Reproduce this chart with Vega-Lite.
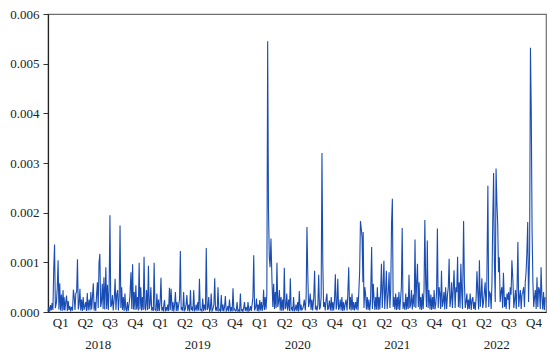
{
  "$schema": "https://vega.github.io/schema/vega-lite/v6.json",
  "width": 498,
  "height": 298,
  "autosize": {"type": "none"},
  "padding": {"left": 48, "top": 14, "right": 4, "bottom": 46},
  "background": "white",
  "config": {
    "view": {"stroke": "#6f6f6f", "strokeWidth": 1.2},
    "font": "Liberation Serif, DejaVu Serif, serif"
  },
  "data": {"values": [
{"d":"2018-01-01","v":0.00002},{"d":"2018-01-04","v":0.0001},{"d":"2018-01-07","v":0.00001},{"d":"2018-01-10","v":0.00014},{"d":"2018-01-13","v":0.00003},{"d":"2018-01-16","v":0.00018},{"d":"2018-01-19","v":0.00004},{"d":"2018-01-22","v":0.00087},{"d":"2018-01-25","v":0.00136},{"d":"2018-01-28","v":0.00008},
{"d":"2018-02-01","v":0.0002},{"d":"2018-02-04","v":0.0005},{"d":"2018-02-07","v":0.00104},{"d":"2018-02-10","v":0.00005},{"d":"2018-02-13","v":0.00058},{"d":"2018-02-16","v":0.00003},{"d":"2018-02-19","v":0.00035},{"d":"2018-02-22","v":0.00002},{"d":"2018-02-25","v":0.00044},{"d":"2018-02-28","v":0.00004},
{"d":"2018-03-01","v":0.0003},{"d":"2018-03-04","v":0.00003},{"d":"2018-03-07","v":0.0002},{"d":"2018-03-10","v":0.00033},{"d":"2018-03-13","v":0.00002},{"d":"2018-03-16","v":0.00022},{"d":"2018-03-19","v":0.00004},{"d":"2018-03-22","v":0.00012},{"d":"2018-03-25","v":0.00001},{"d":"2018-03-28","v":0.0001},
{"d":"2018-04-01","v":0.00003},{"d":"2018-04-04","v":0.00045},{"d":"2018-04-07","v":0.0003},{"d":"2018-04-10","v":0.00004},{"d":"2018-04-13","v":0.00038},{"d":"2018-04-16","v":0.0004},{"d":"2018-04-19","v":0.00106},{"d":"2018-04-22","v":0.00005},{"d":"2018-04-25","v":0.00015},{"d":"2018-04-28","v":0.00047},
{"d":"2018-05-01","v":0.00003},{"d":"2018-05-04","v":0.00025},{"d":"2018-05-07","v":0.00002},{"d":"2018-05-10","v":0.0003},{"d":"2018-05-13","v":0.00004},{"d":"2018-05-16","v":0.00012},{"d":"2018-05-19","v":0.0002},{"d":"2018-05-22","v":0.00002},{"d":"2018-05-25","v":0.00038},{"d":"2018-05-28","v":0.00003},
{"d":"2018-06-01","v":0.00025},{"d":"2018-06-04","v":0.00003},{"d":"2018-06-07","v":0.0004},{"d":"2018-06-10","v":0.00005},{"d":"2018-06-13","v":0.0003},{"d":"2018-06-16","v":0.00058},{"d":"2018-06-19","v":0.00003},{"d":"2018-06-22","v":0.0002},{"d":"2018-06-25","v":0.00002},{"d":"2018-06-28","v":0.00035},
{"d":"2018-07-01","v":0.0006},{"d":"2018-07-04","v":0.00008},{"d":"2018-07-07","v":0.00099},{"d":"2018-07-10","v":0.00117},{"d":"2018-07-13","v":0.0001},{"d":"2018-07-16","v":0.0002},{"d":"2018-07-19","v":0.00057},{"d":"2018-07-22","v":0.00006},{"d":"2018-07-25","v":0.0007},{"d":"2018-07-28","v":0.00005},
{"d":"2018-08-01","v":0.0009},{"d":"2018-08-04","v":0.00006},{"d":"2018-08-07","v":0.00055},{"d":"2018-08-10","v":0.00004},{"d":"2018-08-13","v":0.00045},{"d":"2018-08-16","v":0.00195},{"d":"2018-08-19","v":0.0001},{"d":"2018-08-22","v":0.00015},{"d":"2018-08-25","v":0.00034},{"d":"2018-08-28","v":0.00003},
{"d":"2018-09-01","v":0.0003},{"d":"2018-09-04","v":0.00067},{"d":"2018-09-07","v":0.00004},{"d":"2018-09-10","v":0.00035},{"d":"2018-09-13","v":0.00044},{"d":"2018-09-16","v":0.00003},{"d":"2018-09-19","v":0.0003},{"d":"2018-09-22","v":0.00174},{"d":"2018-09-25","v":0.00008},{"d":"2018-09-28","v":0.0005},
{"d":"2018-10-01","v":0.00004},{"d":"2018-10-04","v":0.0003},{"d":"2018-10-07","v":0.00002},{"d":"2018-10-10","v":0.00037},{"d":"2018-10-13","v":0.00006},{"d":"2018-10-16","v":0.00003},{"d":"2018-10-19","v":0.0002},{"d":"2018-10-22","v":0.00002},{"d":"2018-10-25","v":0.00015},{"d":"2018-10-28","v":0.0003},
{"d":"2018-11-01","v":0.0008},{"d":"2018-11-04","v":0.00006},{"d":"2018-11-07","v":0.00096},{"d":"2018-11-10","v":0.00005},{"d":"2018-11-13","v":0.0004},{"d":"2018-11-16","v":0.00004},{"d":"2018-11-19","v":0.00054},{"d":"2018-11-22","v":0.00005},{"d":"2018-11-25","v":0.0003},{"d":"2018-11-28","v":0.00003},
{"d":"2018-12-01","v":0.00099},{"d":"2018-12-04","v":0.00005},{"d":"2018-12-07","v":0.0005},{"d":"2018-12-10","v":0.00003},{"d":"2018-12-13","v":0.0003},{"d":"2018-12-16","v":0.00004},{"d":"2018-12-19","v":0.00111},{"d":"2018-12-22","v":0.00008},{"d":"2018-12-25","v":0.00003},{"d":"2018-12-28","v":0.00044},
{"d":"2019-01-01","v":0.00004},{"d":"2019-01-04","v":0.00093},{"d":"2019-01-07","v":0.00006},{"d":"2019-01-10","v":0.00015},{"d":"2019-01-13","v":0.0005},{"d":"2019-01-16","v":0.00003},{"d":"2019-01-19","v":0.0001},{"d":"2019-01-22","v":0.00002},{"d":"2019-01-25","v":0.00099},{"d":"2019-01-28","v":0.00005},
{"d":"2019-02-01","v":0.00003},{"d":"2019-02-04","v":0.00037},{"d":"2019-02-07","v":0.00002},{"d":"2019-02-10","v":0.00025},{"d":"2019-02-13","v":0.00002},{"d":"2019-02-16","v":0.0002},{"d":"2019-02-19","v":0.00069},{"d":"2019-02-22","v":0.00003},{"d":"2019-02-25","v":0.0001},{"d":"2019-02-28","v":0.00001},
{"d":"2019-03-01","v":0.00012},{"d":"2019-03-04","v":0.00024},{"d":"2019-03-07","v":0.00001},{"d":"2019-03-10","v":0.0001},{"d":"2019-03-13","v":0.00002},{"d":"2019-03-16","v":0.00015},{"d":"2019-03-19","v":0.00002},{"d":"2019-03-22","v":0.00049},{"d":"2019-03-25","v":0.00004},{"d":"2019-03-28","v":0.00047},
{"d":"2019-04-01","v":0.00002},{"d":"2019-04-04","v":0.0002},{"d":"2019-04-07","v":0.00001},{"d":"2019-04-10","v":0.00015},{"d":"2019-04-13","v":0.0004},{"d":"2019-04-16","v":0.00002},{"d":"2019-04-19","v":0.0002},{"d":"2019-04-22","v":0.00002},{"d":"2019-04-25","v":0.00015},{"d":"2019-04-28","v":0.00025},
{"d":"2019-05-01","v":0.00123},{"d":"2019-05-04","v":0.00004},{"d":"2019-05-07","v":0.0001},{"d":"2019-05-10","v":0.00002},{"d":"2019-05-13","v":0.0004},{"d":"2019-05-16","v":0.00003},{"d":"2019-05-19","v":0.00005},{"d":"2019-05-22","v":0.00015},{"d":"2019-05-25","v":0.00034},{"d":"2019-05-28","v":0.00002},
{"d":"2019-06-01","v":0.00015},{"d":"2019-06-04","v":0.00001},{"d":"2019-06-07","v":0.00044},{"d":"2019-06-10","v":0.00004},{"d":"2019-06-13","v":0.00008},{"d":"2019-06-16","v":0.00002},{"d":"2019-06-19","v":0.00044},{"d":"2019-06-22","v":0.00003},{"d":"2019-06-25","v":0.00005},{"d":"2019-06-28","v":0.00015},
{"d":"2019-07-01","v":0.00002},{"d":"2019-07-04","v":0.0002},{"d":"2019-07-07","v":0.00003},{"d":"2019-07-10","v":0.00067},{"d":"2019-07-13","v":0.00004},{"d":"2019-07-16","v":0.00005},{"d":"2019-07-19","v":0.00002},{"d":"2019-07-22","v":0.00027},{"d":"2019-07-25","v":0.00002},{"d":"2019-07-28","v":0.00015},
{"d":"2019-08-01","v":0.00003},{"d":"2019-08-04","v":0.00129},{"d":"2019-08-07","v":0.00004},{"d":"2019-08-10","v":0.00008},{"d":"2019-08-13","v":0.0003},{"d":"2019-08-16","v":0.00002},{"d":"2019-08-19","v":0.00005},{"d":"2019-08-22","v":0.00037},{"d":"2019-08-25","v":0.00002},{"d":"2019-08-28","v":0.00005},
{"d":"2019-09-01","v":0.00015},{"d":"2019-09-04","v":0.00068},{"d":"2019-09-07","v":0.00003},{"d":"2019-09-10","v":0.00008},{"d":"2019-09-13","v":0.00002},{"d":"2019-09-16","v":0.0005},{"d":"2019-09-19","v":0.00003},{"d":"2019-09-22","v":0.00005},{"d":"2019-09-25","v":0.00002},{"d":"2019-09-28","v":0.00034},
{"d":"2019-10-01","v":0.00002},{"d":"2019-10-04","v":0.00015},{"d":"2019-10-07","v":0.00001},{"d":"2019-10-10","v":0.0001},{"d":"2019-10-13","v":0.00032},{"d":"2019-10-16","v":0.00002},{"d":"2019-10-19","v":0.00004},{"d":"2019-10-22","v":0.00012},{"d":"2019-10-25","v":0.00001},{"d":"2019-10-28","v":0.00025},
{"d":"2019-11-01","v":0.00001},{"d":"2019-11-04","v":0.0001},{"d":"2019-11-07","v":0.00001},{"d":"2019-11-10","v":0.00048},{"d":"2019-11-13","v":0.00004},{"d":"2019-11-16","v":0.00006},{"d":"2019-11-19","v":0.00002},{"d":"2019-11-22","v":0.00003},{"d":"2019-11-25","v":0.0002},{"d":"2019-11-28","v":0.00001},
{"d":"2019-12-01","v":0.00004},{"d":"2019-12-04","v":0.00002},{"d":"2019-12-07","v":0.00037},{"d":"2019-12-10","v":0.00003},{"d":"2019-12-13","v":0.00005},{"d":"2019-12-16","v":0.00001},{"d":"2019-12-19","v":0.00008},{"d":"2019-12-22","v":0.0002},{"d":"2019-12-25","v":0.00002},{"d":"2019-12-28","v":0.0001},
{"d":"2020-01-01","v":0.00001},{"d":"2020-01-04","v":0.0002},{"d":"2020-01-07","v":0.00002},{"d":"2020-01-10","v":0.00004},{"d":"2020-01-13","v":0.00012},{"d":"2020-01-16","v":0.00002},{"d":"2020-01-19","v":0.00015},{"d":"2020-01-22","v":0.0003},{"d":"2020-01-25","v":0.00114},{"d":"2020-01-28","v":0.00003},
{"d":"2020-02-01","v":0.0001},{"d":"2020-02-04","v":0.00027},{"d":"2020-02-07","v":0.00002},{"d":"2020-02-10","v":0.00015},{"d":"2020-02-13","v":0.00001},{"d":"2020-02-16","v":0.00024},{"d":"2020-02-19","v":0.00003},{"d":"2020-02-22","v":0.0002},{"d":"2020-02-25","v":0.00002},{"d":"2020-02-28","v":0.00015},
{"d":"2020-03-01","v":0.00045},{"d":"2020-03-04","v":0.00004},{"d":"2020-03-07","v":0.0003},{"d":"2020-03-10","v":0.00005},{"d":"2020-03-13","v":0.00037},{"d":"2020-03-16","v":0.00545},{"d":"2020-03-19","v":0.00205},{"d":"2020-03-22","v":0.0011},{"d":"2020-03-25","v":0.0009},{"d":"2020-03-28","v":0.00148},
{"d":"2020-04-01","v":0.0006},{"d":"2020-04-04","v":0.0001},{"d":"2020-04-07","v":0.00057},{"d":"2020-04-10","v":0.00006},{"d":"2020-04-13","v":0.0004},{"d":"2020-04-16","v":0.00008},{"d":"2020-04-19","v":0.00099},{"d":"2020-04-22","v":0.0001},{"d":"2020-04-25","v":0.0002},{"d":"2020-04-28","v":0.00044},
{"d":"2020-05-01","v":0.00003},{"d":"2020-05-04","v":0.0003},{"d":"2020-05-07","v":0.00002},{"d":"2020-05-10","v":0.00025},{"d":"2020-05-13","v":0.00003},{"d":"2020-05-16","v":0.00089},{"d":"2020-05-19","v":0.00006},{"d":"2020-05-22","v":0.0001},{"d":"2020-05-25","v":0.00037},{"d":"2020-05-28","v":0.00003},
{"d":"2020-06-01","v":0.00025},{"d":"2020-06-04","v":0.00002},{"d":"2020-06-07","v":0.00068},{"d":"2020-06-10","v":0.00005},{"d":"2020-06-13","v":0.00008},{"d":"2020-06-16","v":0.00002},{"d":"2020-06-19","v":0.0003},{"d":"2020-06-22","v":0.00003},{"d":"2020-06-25","v":0.00005},{"d":"2020-06-28","v":0.00015},
{"d":"2020-07-01","v":0.00002},{"d":"2020-07-04","v":0.0002},{"d":"2020-07-07","v":0.00001},{"d":"2020-07-10","v":0.00042},{"d":"2020-07-13","v":0.00003},{"d":"2020-07-16","v":0.00015},{"d":"2020-07-19","v":0.00004},{"d":"2020-07-22","v":0.00006},{"d":"2020-07-25","v":0.00012},{"d":"2020-07-28","v":0.00025},
{"d":"2020-08-01","v":0.00003},{"d":"2020-08-04","v":0.0003},{"d":"2020-08-07","v":0.00171},{"d":"2020-08-10","v":0.00077},{"d":"2020-08-13","v":0.0001},{"d":"2020-08-16","v":0.0002},{"d":"2020-08-19","v":0.00037},{"d":"2020-08-22","v":0.00004},{"d":"2020-08-25","v":0.00025},{"d":"2020-08-28","v":0.00003},
{"d":"2020-09-01","v":0.0003},{"d":"2020-09-04","v":0.00083},{"d":"2020-09-07","v":0.00005},{"d":"2020-09-10","v":0.0001},{"d":"2020-09-13","v":0.00003},{"d":"2020-09-16","v":0.00015},{"d":"2020-09-19","v":0.00075},{"d":"2020-09-22","v":0.00005},{"d":"2020-09-25","v":0.0001},{"d":"2020-09-28","v":0.0003},
{"d":"2020-10-01","v":0.0032},{"d":"2020-10-04","v":0.001},{"d":"2020-10-07","v":0.0001},{"d":"2020-10-10","v":0.0002},{"d":"2020-10-13","v":0.00003},{"d":"2020-10-16","v":0.00025},{"d":"2020-10-19","v":0.00037},{"d":"2020-10-22","v":0.00004},{"d":"2020-10-25","v":0.00008},{"d":"2020-10-28","v":0.00023},
{"d":"2020-11-01","v":0.00003},{"d":"2020-11-04","v":0.0003},{"d":"2020-11-07","v":0.00002},{"d":"2020-11-10","v":0.0002},{"d":"2020-11-13","v":0.00003},{"d":"2020-11-16","v":0.00025},{"d":"2020-11-19","v":0.00076},{"d":"2020-11-22","v":0.00005},{"d":"2020-11-25","v":0.00015},{"d":"2020-11-28","v":0.00067},
{"d":"2020-12-01","v":0.00004},{"d":"2020-12-04","v":0.0001},{"d":"2020-12-07","v":0.00025},{"d":"2020-12-10","v":0.00003},{"d":"2020-12-13","v":0.0003},{"d":"2020-12-16","v":0.00002},{"d":"2020-12-19","v":0.0002},{"d":"2020-12-22","v":0.00003},{"d":"2020-12-25","v":0.00015},{"d":"2020-12-28","v":0.00025},
{"d":"2021-01-01","v":0.00003},{"d":"2021-01-04","v":0.0004},{"d":"2021-01-07","v":0.0009},{"d":"2021-01-10","v":0.00005},{"d":"2021-01-13","v":0.0003},{"d":"2021-01-16","v":0.00003},{"d":"2021-01-19","v":0.00037},{"d":"2021-01-22","v":0.00004},{"d":"2021-01-25","v":0.0002},{"d":"2021-01-28","v":0.00003},
{"d":"2021-02-01","v":0.0002},{"d":"2021-02-04","v":0.00005},{"d":"2021-02-07","v":0.0003},{"d":"2021-02-10","v":0.00003},{"d":"2021-02-13","v":0.0004},{"d":"2021-02-16","v":0.0008},{"d":"2021-02-19","v":0.00183},{"d":"2021-02-22","v":0.00168},{"d":"2021-02-25","v":0.0015},{"d":"2021-02-28","v":0.0006},
{"d":"2021-03-01","v":0.00161},{"d":"2021-03-04","v":0.00008},{"d":"2021-03-07","v":0.0005},{"d":"2021-03-10","v":0.00035},{"d":"2021-03-13","v":0.00005},{"d":"2021-03-16","v":0.0003},{"d":"2021-03-19","v":0.00004},{"d":"2021-03-22","v":0.00025},{"d":"2021-03-25","v":0.00003},{"d":"2021-03-28","v":0.0002},
{"d":"2021-04-01","v":0.00131},{"d":"2021-04-04","v":0.00006},{"d":"2021-04-07","v":0.00057},{"d":"2021-04-10","v":0.00025},{"d":"2021-04-13","v":0.00004},{"d":"2021-04-16","v":0.0003},{"d":"2021-04-19","v":0.00005},{"d":"2021-04-22","v":0.0005},{"d":"2021-04-25","v":0.00004},{"d":"2021-04-28","v":0.0003},
{"d":"2021-05-01","v":0.00005},{"d":"2021-05-04","v":0.0004},{"d":"2021-05-07","v":0.00097},{"d":"2021-05-10","v":0.00008},{"d":"2021-05-13","v":0.0005},{"d":"2021-05-16","v":0.00103},{"d":"2021-05-19","v":0.00006},{"d":"2021-05-22","v":0.0004},{"d":"2021-05-25","v":0.00083},{"d":"2021-05-28","v":0.00006},
{"d":"2021-06-01","v":0.0004},{"d":"2021-06-04","v":0.0008},{"d":"2021-06-07","v":0.00008},{"d":"2021-06-10","v":0.00045},{"d":"2021-06-13","v":0.00178},{"d":"2021-06-16","v":0.00228},{"d":"2021-06-19","v":0.0001},{"d":"2021-06-22","v":0.0003},{"d":"2021-06-25","v":0.00005},{"d":"2021-06-28","v":0.00037},
{"d":"2021-07-01","v":0.00004},{"d":"2021-07-04","v":0.0003},{"d":"2021-07-07","v":0.00005},{"d":"2021-07-10","v":0.0004},{"d":"2021-07-13","v":0.00004},{"d":"2021-07-16","v":0.00025},{"d":"2021-07-19","v":0.0005},{"d":"2021-07-22","v":0.00169},{"d":"2021-07-25","v":0.00006},{"d":"2021-07-28","v":0.0002},
{"d":"2021-08-01","v":0.00004},{"d":"2021-08-04","v":0.00037},{"d":"2021-08-07","v":0.00005},{"d":"2021-08-10","v":0.0003},{"d":"2021-08-13","v":0.00006},{"d":"2021-08-16","v":0.00075},{"d":"2021-08-19","v":0.00008},{"d":"2021-08-22","v":0.00015},{"d":"2021-08-25","v":0.00044},{"d":"2021-08-28","v":0.00005},
{"d":"2021-09-01","v":0.00035},{"d":"2021-09-04","v":0.0001},{"d":"2021-09-07","v":0.00146},{"d":"2021-09-10","v":0.00008},{"d":"2021-09-13","v":0.0006},{"d":"2021-09-16","v":0.00097},{"d":"2021-09-19","v":0.0001},{"d":"2021-09-22","v":0.0006},{"d":"2021-09-25","v":0.00005},{"d":"2021-09-28","v":0.0003},
{"d":"2021-10-01","v":0.00004},{"d":"2021-10-04","v":0.00037},{"d":"2021-10-07","v":0.00006},{"d":"2021-10-10","v":0.00045},{"d":"2021-10-13","v":0.00185},{"d":"2021-10-16","v":0.0006},{"d":"2021-10-19","v":0.0001},{"d":"2021-10-22","v":0.00144},{"d":"2021-10-25","v":0.00008},{"d":"2021-10-28","v":0.00044},
{"d":"2021-11-01","v":0.00005},{"d":"2021-11-04","v":0.00035},{"d":"2021-11-07","v":0.00004},{"d":"2021-11-10","v":0.0003},{"d":"2021-11-13","v":0.00006},{"d":"2021-11-16","v":0.00044},{"d":"2021-11-19","v":0.00005},{"d":"2021-11-22","v":0.00015},{"d":"2021-11-25","v":0.0004},{"d":"2021-11-28","v":0.00168},
{"d":"2021-12-01","v":0.00008},{"d":"2021-12-04","v":0.0005},{"d":"2021-12-07","v":0.00037},{"d":"2021-12-10","v":0.00006},{"d":"2021-12-13","v":0.00083},{"d":"2021-12-16","v":0.0001},{"d":"2021-12-19","v":0.0002},{"d":"2021-12-22","v":0.0004},{"d":"2021-12-25","v":0.00005},{"d":"2021-12-28","v":0.0005},
{"d":"2022-01-01","v":0.00006},{"d":"2022-01-04","v":0.00035},{"d":"2022-01-07","v":0.0005},{"d":"2022-01-10","v":0.00107},{"d":"2022-01-13","v":0.0001},{"d":"2022-01-16","v":0.00025},{"d":"2022-01-19","v":0.0006},{"d":"2022-01-22","v":0.00008},{"d":"2022-01-25","v":0.00045},{"d":"2022-01-28","v":0.00084},
{"d":"2022-02-01","v":0.00008},{"d":"2022-02-04","v":0.0005},{"d":"2022-02-07","v":0.0004},{"d":"2022-02-10","v":0.00111},{"d":"2022-02-13","v":0.0001},{"d":"2022-02-16","v":0.0006},{"d":"2022-02-19","v":0.00008},{"d":"2022-02-22","v":0.00097},{"d":"2022-02-25","v":0.0004},{"d":"2022-02-28","v":0.00006},
{"d":"2022-03-01","v":0.0005},{"d":"2022-03-04","v":0.00183},{"d":"2022-03-07","v":0.0006},{"d":"2022-03-10","v":0.00008},{"d":"2022-03-13","v":0.0002},{"d":"2022-03-16","v":0.00037},{"d":"2022-03-19","v":0.00005},{"d":"2022-03-22","v":0.00025},{"d":"2022-03-25","v":0.00006},{"d":"2022-03-28","v":0.00037},
{"d":"2022-04-01","v":0.00004},{"d":"2022-04-04","v":0.00025},{"d":"2022-04-07","v":0.0003},{"d":"2022-04-10","v":0.00006},{"d":"2022-04-13","v":0.0002},{"d":"2022-04-16","v":0.00004},{"d":"2022-04-19","v":0.0003},{"d":"2022-04-22","v":0.00082},{"d":"2022-04-25","v":0.0004},{"d":"2022-04-28","v":0.00005},
{"d":"2022-05-01","v":0.00104},{"d":"2022-05-04","v":0.0001},{"d":"2022-05-07","v":0.0003},{"d":"2022-05-10","v":0.00068},{"d":"2022-05-13","v":0.00008},{"d":"2022-05-16","v":0.0002},{"d":"2022-05-19","v":0.0004},{"d":"2022-05-22","v":0.0006},{"d":"2022-05-25","v":0.00008},{"d":"2022-05-28","v":0.0005},
{"d":"2022-06-01","v":0.00254},{"d":"2022-06-04","v":0.0001},{"d":"2022-06-07","v":0.0004},{"d":"2022-06-10","v":0.00037},{"d":"2022-06-13","v":0.00006},{"d":"2022-06-16","v":0.0006},{"d":"2022-06-19","v":0.0019},{"d":"2022-06-22","v":0.0028},{"d":"2022-06-25","v":0.001},{"d":"2022-06-28","v":0.0002},
{"d":"2022-07-01","v":0.00289},{"d":"2022-07-04","v":0.00221},{"d":"2022-07-07","v":0.00178},{"d":"2022-07-10","v":0.0008},{"d":"2022-07-13","v":0.0011},{"d":"2022-07-16","v":0.0002},{"d":"2022-07-19","v":0.0004},{"d":"2022-07-22","v":0.0005},{"d":"2022-07-25","v":0.00008},{"d":"2022-07-28","v":0.00079},
{"d":"2022-08-01","v":0.0001},{"d":"2022-08-04","v":0.0003},{"d":"2022-08-07","v":0.00006},{"d":"2022-08-10","v":0.00037},{"d":"2022-08-13","v":0.00025},{"d":"2022-08-16","v":0.0004},{"d":"2022-08-19","v":0.00005},{"d":"2022-08-22","v":0.0005},{"d":"2022-08-25","v":0.00035},{"d":"2022-08-28","v":0.00104},
{"d":"2022-09-01","v":0.0006},{"d":"2022-09-04","v":0.00008},{"d":"2022-09-07","v":0.00025},{"d":"2022-09-10","v":0.00044},{"d":"2022-09-13","v":0.00006},{"d":"2022-09-16","v":0.0005},{"d":"2022-09-19","v":0.00141},{"d":"2022-09-22","v":0.0001},{"d":"2022-09-25","v":0.0003},{"d":"2022-09-28","v":0.00044},
{"d":"2022-10-01","v":0.00006},{"d":"2022-10-04","v":0.00035},{"d":"2022-10-07","v":0.0004},{"d":"2022-10-10","v":0.0005},{"d":"2022-10-13","v":0.0001},{"d":"2022-10-16","v":0.0006},{"d":"2022-10-19","v":0.0008},{"d":"2022-10-22","v":0.0012},{"d":"2022-10-25","v":0.00181},{"d":"2022-10-28","v":0.0002},
{"d":"2022-11-01","v":0.0012},{"d":"2022-11-04","v":0.00532},{"d":"2022-11-07","v":0.00403},{"d":"2022-11-10","v":0.00164},{"d":"2022-11-13","v":0.0006},{"d":"2022-11-16","v":0.0001},{"d":"2022-11-19","v":0.0003},{"d":"2022-11-22","v":0.00044},{"d":"2022-11-25","v":0.00006},{"d":"2022-11-28","v":0.0007},
{"d":"2022-12-01","v":0.0001},{"d":"2022-12-04","v":0.0005},{"d":"2022-12-07","v":0.00044},{"d":"2022-12-10","v":0.00006},{"d":"2022-12-13","v":0.0009},{"d":"2022-12-16","v":0.0003},{"d":"2022-12-19","v":0.00005},{"d":"2022-12-22","v":0.0004},{"d":"2022-12-25","v":0.00004},{"d":"2022-12-28","v":0.0003}
  ]},
  "mark": {"type": "line", "color": "#1a4db4", "strokeWidth": 1.1, "interpolate": "linear"},
  "encoding": {
    "x": {
      "field": "d", "type": "temporal",
      "scale": {"domain": [{"year": 2018, "month": 1, "date": 1}, {"year": 2022, "month": 12, "date": 31}]},
      "axis": {
        "title": null, "grid": false, "ticks": false,
        "domainColor": "#222", "domainWidth": 1.2,
        "labelFont": "Liberation Serif, DejaVu Serif, serif", "labelFontSize": 13, "labelColor": "#222",
        "labelPadding": 4, "labelOverlap": false, "labelFlush": false, "labelBound": false,
        "labelLineHeight": 22, "labelBaseline": "top",
        "values": [
          {"year":2018,"month":2,"date":15},{"year":2018,"month":5,"date":16},{"year":2018,"month":7,"date":2},{"year":2018,"month":8,"date":15},{"year":2018,"month":11,"date":15},
          {"year":2019,"month":2,"date":15},{"year":2019,"month":5,"date":16},{"year":2019,"month":7,"date":2},{"year":2019,"month":8,"date":15},{"year":2019,"month":11,"date":15},
          {"year":2020,"month":2,"date":15},{"year":2020,"month":5,"date":16},{"year":2020,"month":7,"date":2},{"year":2020,"month":8,"date":15},{"year":2020,"month":11,"date":15},
          {"year":2021,"month":2,"date":15},{"year":2021,"month":5,"date":16},{"year":2021,"month":7,"date":2},{"year":2021,"month":8,"date":15},{"year":2021,"month":11,"date":15},
          {"year":2022,"month":2,"date":15},{"year":2022,"month":5,"date":16},{"year":2022,"month":7,"date":2},{"year":2022,"month":8,"date":15},{"year":2022,"month":11,"date":15}
        ],
        "labelExpr": "month(datum.value) == 6 ? ['', timeFormat(datum.value, '%Y')] : 'Q' + (floor(month(datum.value) / 3) + 1)"
      }
    },
    "y": {
      "field": "v", "type": "quantitative",
      "scale": {"domain": [0, 0.006], "nice": false},
      "axis": {
        "title": null, "grid": false,
        "values": [0, 0.001, 0.002, 0.003, 0.004, 0.005, 0.006],
        "format": ".3f",
        "tickSize": 5, "tickColor": "#333", "tickWidth": 1,
        "domainColor": "#222", "domainWidth": 1.2,
        "labelFont": "Liberation Serif, DejaVu Serif, serif", "labelFontSize": 13, "labelColor": "#222",
        "labelPadding": 4
      }
    }
  }
}
